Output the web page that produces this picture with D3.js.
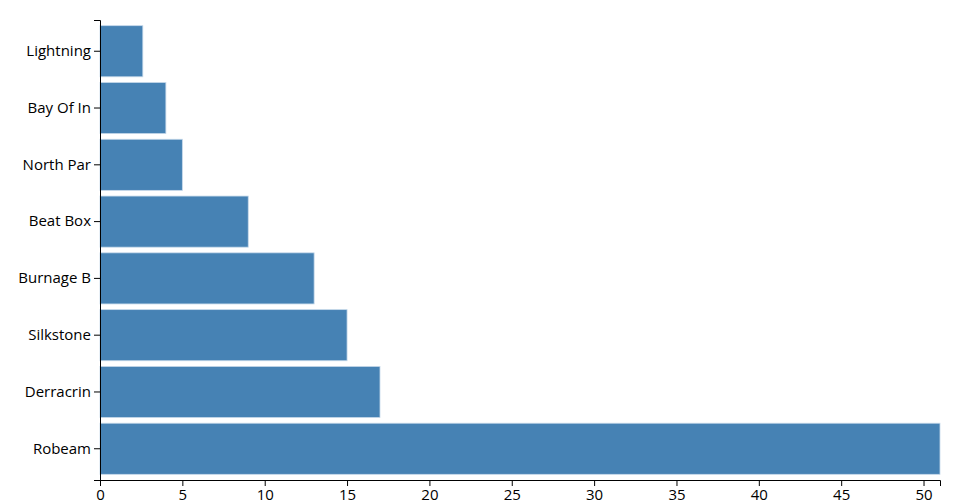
<!DOCTYPE html>
<html>
<head>
<meta charset="utf-8">
<script src="https://cdn.jsdelivr.net/npm/d3@7"></script>
<style>
body { margin: 0; background: #fff; }
svg text { font-family: "Open Sans", sans-serif; }
</style>
</head>
<body>
<svg id="chart" width="960" height="500"></svg>
<script>
const categories = ["Lightning", "Bay Of In", "North Par", "Beat Box", "Burnage B", "Silkstone", "Derracrin", "Robeam"];
const values = [2.6, 4, 5, 9, 13, 15, 17, 51];
const xTicks = [0, 5, 10, 15, 20, 25, 30, 35, 40, 45, 50];

const margin = {top: 20, right: 20, bottom: 20, left: 100};
const width = 960 - margin.left - margin.right;
const height = 500 - margin.top - margin.bottom;

const svg = d3.select("#chart");
const g = svg.append("g").attr("transform", `translate(${margin.left},${margin.top})`);

const data = categories.map((c, i) => ({name: c, value: values[i]}));

const x = d3.scaleLinear().domain([0, d3.max(values)]).range([0, width]);
const y = d3.scaleBand().domain(categories).range([0, height]).padding(0.1);

g.selectAll("rect.bar")
  .data(data)
  .enter().append("rect")
  .attr("class", "bar")
  .attr("x", 0)
  .attr("y", d => y(d.name))
  .attr("width", d => x(d.value))
  .attr("height", y.bandwidth())
  .attr("fill", "steelblue")
  .attr("stroke", "#c6d9ea")
  .attr("stroke-width", 0.8);

const xAxis = g.append("g")
  .attr("transform", `translate(0,${height})`)
  .call(d3.axisBottom(x).tickValues(xTicks));
xAxis.selectAll("text").style("font-size", "15px").attr("fill", "#000");

const yAxis = g.append("g").call(d3.axisLeft(y));
yAxis.selectAll("text").style("font-size", "15px").attr("fill", "#000");
</script>
</body>
</html>
